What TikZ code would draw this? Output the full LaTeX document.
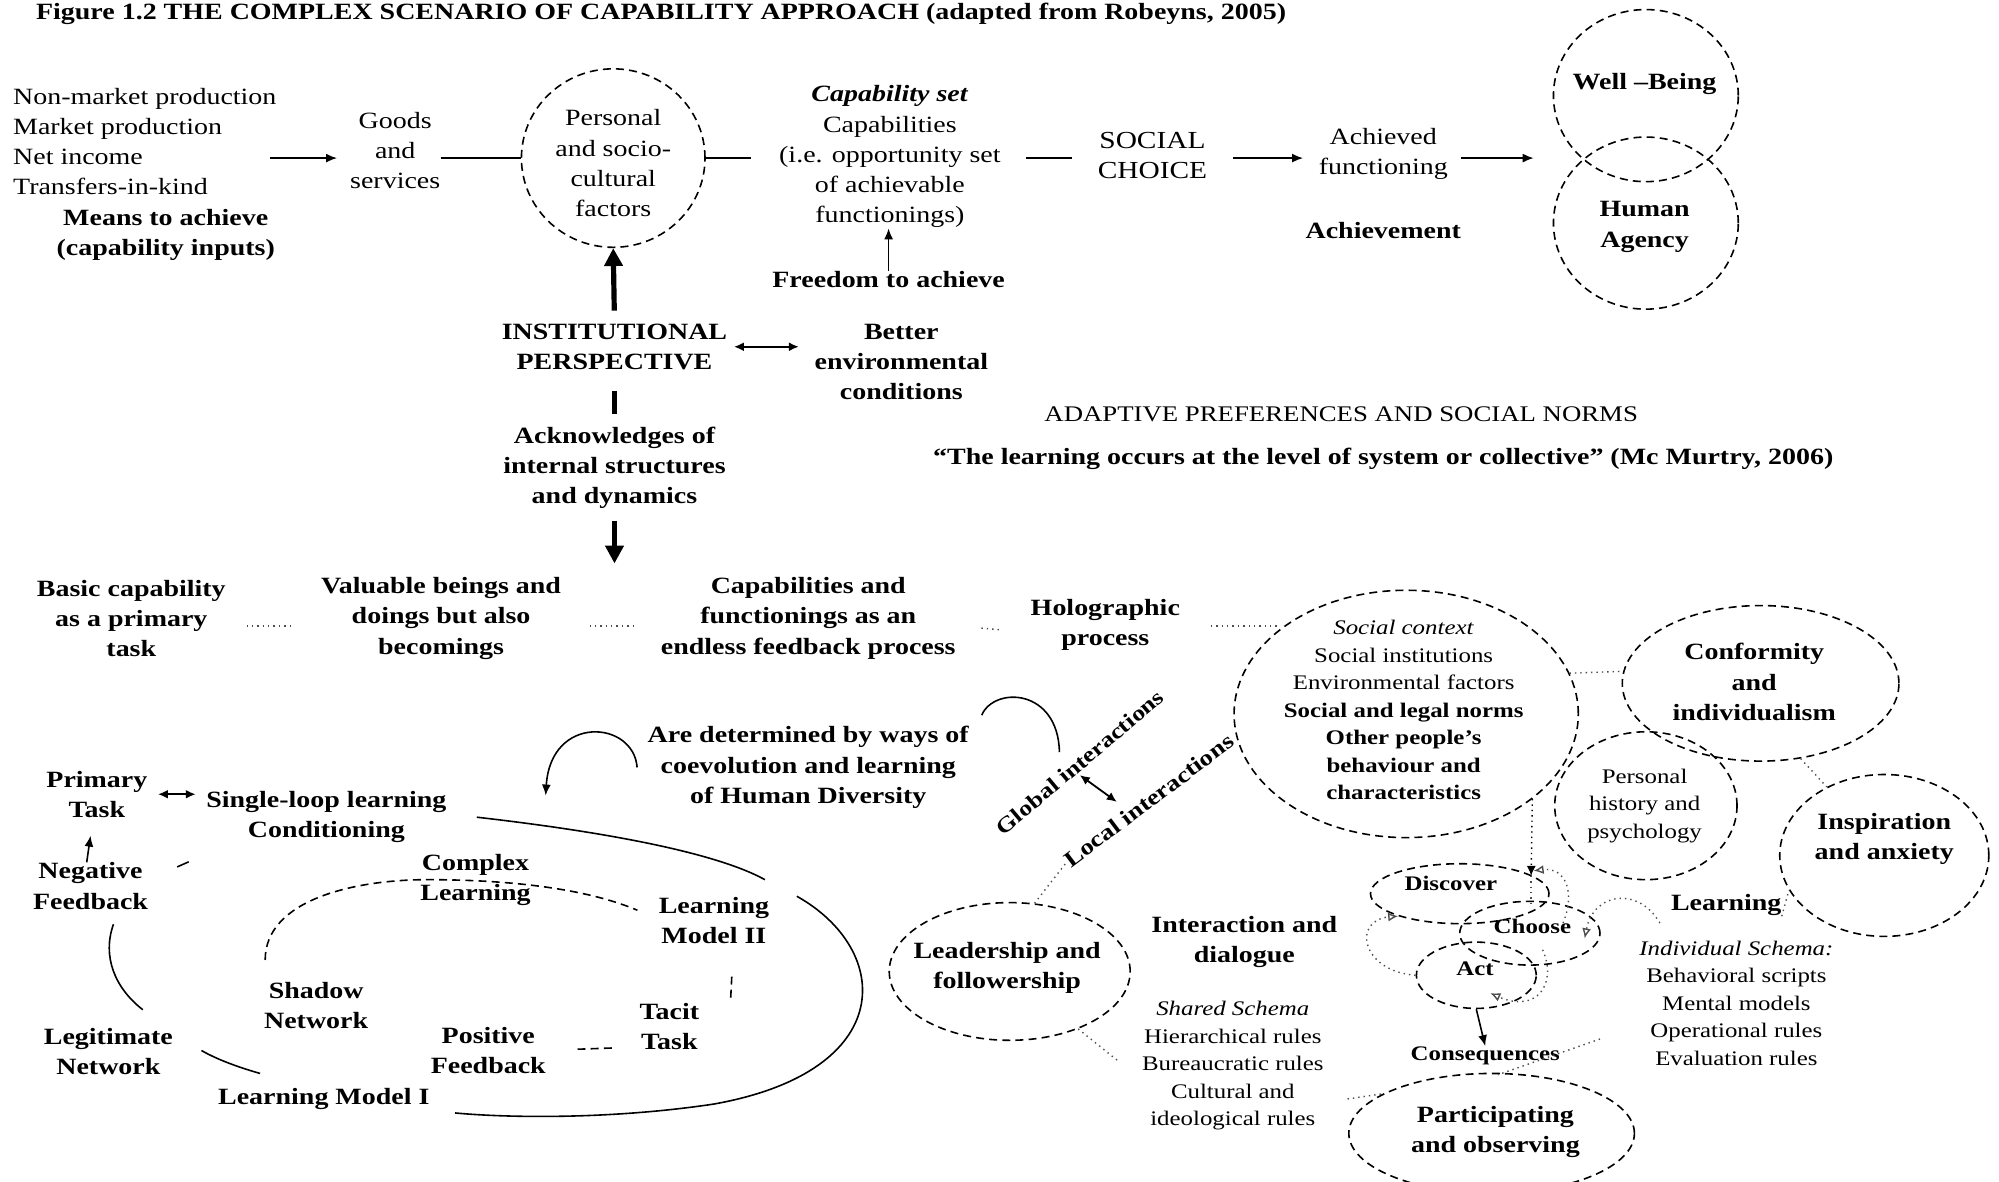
\documentclass[tikz,border=0pt]{standalone}
\usepackage{fontspec}
\setmainfont{Liberation Serif}[FakeStretch=1.2]
\usetikzlibrary{arrows.meta,shapes.geometric}
\newlength\uu \setlength\uu{0.64pt}
\begin{document}
\begin{tikzpicture}[x=0.64pt,y=-0.64pt,
 every node/.style={inner sep=0pt, align=center},
 reg/.style={font=\fontsize{11.7}{15.2}\selectfont},
 bld/.style={font=\fontsize{11.7}{15.2}\selectfont\bfseries},
 sm/.style={font=\fontsize{10.4}{13.8}\selectfont},
 smb/.style={font=\fontsize{10.4}{13.8}\selectfont\bfseries},
 ln/.style={line width=0.8pt},
 dotln/.style={line width=0.7pt, dotted, black!70},
 dsh/.style={line width=0.8pt, dash pattern=on 4pt off 2.6pt},
 ell/.style={ellipse, draw, dsh},
 arr/.style={ln, -{Latex[length=5.5pt,width=4.5pt]}},
 dblarr/.style={line width=1.1pt, {Latex[length=5pt,width=4.5pt]}-{Latex[length=5pt,width=4.5pt]}},
 thk/.style={line width=2.6pt},
 thickarr/.style={thk, -{Triangle[length=9pt,width=9pt]}},
 dotarr/.style={dotln, -{Latex[open,length=5pt,width=4.5pt]}},
]
\fill[white] (0,0) rectangle (1568,927);
\useasboundingbox (0,0) rectangle (1568,927);

% ---------- top row ----------
\node[bld, anchor=west] (title) at (28,11) {Figure 1.2 THE COMPLEX SCENARIO OF CAPABILITY APPROACH (adapted from Robeyns, 2005)};
\node[reg, anchor=west, align=left] (inputs) at (10,111) {Non-market production\\Market production\\Net income\\Transfers-in-kind};
\node[bld] (means) at (130,184) {Means to achieve\\(capability inputs)};
\node[reg] (goods) at (310,118) {Goods\\and\\services};
\node[ell, minimum width=144\uu, minimum height=140\uu] (perE) at (481,124) {};
\node[reg] (perT) at (481,128) {Personal\\and socio-\\cultural\\factors};
\node[reg] (capset) at (698,123) {\textbf{\textit{Capability set}}\\Capabilities\\(i.e. opportunity set\\of achievable\\functionings)};
\node[bld] (free) at (697,219) {Freedom to achieve};
\node[reg, font=\fontsize{12.3}{15.2}\selectfont] (soc) at (904,122) {SOCIAL\\CHOICE};
\node[reg] (ach) at (1085,121) {Achieved\\functioning};
\node[bld] (achv) at (1085,181) {Achievement};
\node[ell, minimum width=145\uu, minimum height=135\uu] (wbE) at (1291,75) {};
\node[ell, minimum width=145\uu, minimum height=135\uu] (haE) at (1291,175) {};
\node[bld] (wbT) at (1290,66) {Well --Being};
\node[bld] (haT) at (1290,178) {Human\\Agency};

\coordinate (in1) at (212,124);
\draw[arr, shorten >=10\uu] (in1) -- (goods.west |- in1);
\draw[ln] (goods.east |- perE) -- (perE.west);
\draw[ln, shorten >=22\uu] (perE.east) -- (capset.west |- perE);
\draw[arr] (free.north) -- (capset.south -| free.north);
\draw[ln, shorten <=20\uu, shorten >=20\uu] (capset.east |- in1) -- (soc.west |- in1);
\draw[arr, shorten <=20\uu, shorten >=12\uu] (soc.east |- in1) -- (ach.west |- in1);
\coordinate (wbin) at (1203,124);
\draw[arr, shorten <=10\uu] (ach.east |- wbin) -- (wbin);

% ---------- middle ----------
\node[bld] (inst) at (482,272) {INSTITUTIONAL\\PERSPECTIVE};
\draw[thickarr, shorten <=10\uu] (inst.north) -- (perE.south);
\node[bld] (better) at (707,284) {Better\\environmental\\conditions};
\draw[dblarr, shorten <=5\uu, shorten >=12\uu] (inst.east) -- (better.west |- inst.east);
\node[bld] (ack) at (482,367) {Acknowledges of\\internal structures\\and dynamics};
\draw[thk, shorten <=16\uu, shorten >=10\uu] (inst.south) -- (ack.north);
\coordinate (rowin) at (482,442);
\draw[thickarr, shorten <=9\uu] (ack.south) -- (rowin);
\node[reg, font=\fontsize{11.2}{15}\selectfont] (adapt) at (1052,325) {ADAPTIVE PREFERENCES AND SOCIAL NORMS};
\node[bld] (quote) at (1085,360) {“The learning occurs at the level of system or collective” (Mc Murtry, 2006)};

% ---------- third row ----------
\node[bld] (basic) at (103,485) {Basic capability\\as a primary\\task};
\node[bld] (valuable) at (346,485) {Valuable beings and\\doings but also\\becomings};
\node[bld] (capfun) at (634,485) {Capabilities and\\functionings as an\\endless feedback process};
\node[bld] (holo) at (867,490) {Holographic\\process};
\draw[dotln, shorten <=16\uu, shorten >=22\uu] ([yshift=-6\uu]basic.east) -- ([yshift=-6\uu]valuable.west);
\draw[dotln, shorten <=22\uu, shorten >=19\uu] ([yshift=-6\uu]valuable.east) -- ([yshift=-6\uu]capfun.west);
\draw[dotln, shorten <=20\uu, shorten >=23\uu] ([yshift=-6\uu]capfun.east) -- ([yshift=-6\uu]holo.west);
\coordinate (holoend) at (1003,491);
\draw[dotln, shorten <=24\uu] (holo.east |- holoend) -- (holoend);

% ---------- social context cluster ----------
\node[ell, minimum width=270\uu, minimum height=194\uu] (socE) at (1103,560) {};
\node[sm] (socT) at (1101,557) {\textit{Social context}\\Social institutions\\Environmental factors\\\textbf{Social and legal norms}\\\textbf{Other people’s}\\\textbf{behaviour and}\\\textbf{characteristics}};
\node[ell, minimum width=217\uu, minimum height=122\uu] (confE) at (1381,536) {};
\node[bld] (confT) at (1376,535) {Conformity\\and\\individualism};
\node[ell, minimum width=143\uu, minimum height=116\uu] (phE) at (1291,632) {};
\node[sm] (phT) at (1290,632) {Personal\\history and\\psychology};
\node[ell, minimum width=164\uu, minimum height=127\uu] (insE) at (1478,671) {};
\node[bld] (insT) at (1478,658) {Inspiration\\and anxiety};
\draw[dotln] (socE.14) -- (confE.175);
\draw[dotln] (confE.-62) -- (insE.130);
\node[bld] (learn) at (1354,710) {Learning};
\draw[dotln] (learn.south east) -- (insE.200);
\node[sm] (indiv) at (1362,787) {\textit{Individual Schema:}\\Behavioral scripts\\Mental models\\Operational rules\\Evaluation rules};

% discover / choose / act
\node[ell, minimum width=140\uu, minimum height=47\uu] (disE) at (1145,701) {};
\node[ell, minimum width=110\uu, minimum height=50\uu] (choE) at (1200,732) {};
\node[ell, minimum width=94\uu, minimum height=52\uu] (actE) at (1158,765) {};
\node[smb] (disT) at (1138,693) {Discover};
\node[smb] (choT) at (1202,727) {Choose};
\node[smb] (actT) at (1157,760) {Act};
\node[smb] (cons) at (1165,828) {Consequences};
\coordinate (vdend) at (1201,687);
\draw[dotln, black, -{Latex[length=5pt,width=4.5pt]}] (socE.-34) -- (vdend);
\draw[dotln] (vdend) -- (1201,712);
\draw[dotarr] (actE.west) .. controls (1068,762) and (1060,722) .. (disE.-160);
\draw[dotarr] (1210,745) .. controls (1222,772) and (1205,795) .. (1169,779);
\draw[dotarr] (1226,724) .. controls (1236,700) and (1228,680) .. (1203,683);
\draw[dotarr] (1302,724) .. controls (1285,695) and (1250,700) .. (1243,736);
\draw[arr] (actE.south) -- (cons.north);
\coordinate (cs1) at (1255,815);
\coordinate (cs2) at (1175,843);
\draw[dotln] (cs1) -- (cs2);
\node[ell, minimum width=224\uu, minimum height=94\uu] (partE) at (1170,889) {};
\node[bld] (partT) at (1173,888) {Participating\\and observing};
\coordinate (pstub) at (1057,862);
\draw[dotln] (pstub) -- (partE.160);

% leadership, interactions
\node[ell, minimum width=189\uu, minimum height=108\uu] (leadE) at (792,762) {};
\node[bld] (leadT) at (790,759) {Leadership and\\followership};
\node[bld] (inter) at (976,739) {Interaction and\\dialogue};
\node[sm] (shared) at (967,836) {\textit{Shared Schema}\\Hierarchical rules\\Bureaucratic rules\\Cultural and\\ideological rules};
\coordinate (shstub) at (878,833);
\draw[dotln] (leadE.-40) -- (shstub);
\node[bld, font=\fontsize{10.8}{13}\selectfont\bfseries, rotate=40] (glob) at (847,598) {Global interactions};
\node[bld, font=\fontsize{11.2}{13}\selectfont\bfseries, rotate=37] (loc) at (901,628) {Local interactions};
\draw[dotln] (leadE.70) -- (loc.west);
\coordinate (ga1) at (847,608);
\coordinate (ga2) at (876,629);
\draw[dblarr, line width=0.9pt] (ga1) -- (ga2);
\draw[ln] (770,561) .. controls (780,538) and (830,540) .. (831,590);

% ---------- bottom left ----------
\node[bld] (aredet) at (634,602) {Are determined by ways of\\coevolution and learning\\of Human Diversity};
\draw[arr] ([xshift=-8\uu]aredet.west) .. controls (497,565) and (432,560) .. (428,624);
\node[bld] (primary) at (76,623) {Primary\\Task};
\node[bld] (single) at (256,641) {Single-loop learning\\Conditioning};
\draw[dblarr, shorten <=8\uu, shorten >=8\uu] (primary.east) -- (single.west |- primary.east);
\node[bld] (neg) at (71,695) {Negative\\Feedback};
\draw[arr, shorten >=14\uu] ([xshift=-3\uu]neg.north) -- ([xshift=-3\uu]primary.south);
\node[bld] (legit) at (85,825) {Legitimate\\Network};
\draw[ln] (89,725) .. controls (80,750) and (90,775) .. (112,792);
\draw[ln] (139,680) -- (148,676);
\draw[ln] (158,824) .. controls (172,832) and (190,838) .. (204,842);
\node[bld] (lm1) at (254,862) {Learning Model I};
\node[bld] (cl) at (373,690) {Complex\\Learning};
\node[bld] (lm2) at (560,722) {Learning\\Model II};
\node[bld] (shadow) at (248,789) {Shadow\\Network};
\node[bld] (pos) at (383,824) {Positive\\Feedback};
\node[bld] (tacit) at (525,805) {Tacit\\Task};
\draw[ln] (374,641) .. controls (470,652) and (560,668) .. (600,690);
\draw[ln] (625,703) .. controls (700,745) and (705,840) .. (560,866) .. controls (480,878) and (400,877) .. (357,873);
\draw[dsh] (208,753) .. controls (208,705) and (280,690) .. (335,690) .. controls (400,690) and (460,697) .. (500,714);
\draw[dsh] (574,766) -- (573,786);
\draw[dsh] (453,823) -- (481,822);
\end{tikzpicture}
\end{document}
